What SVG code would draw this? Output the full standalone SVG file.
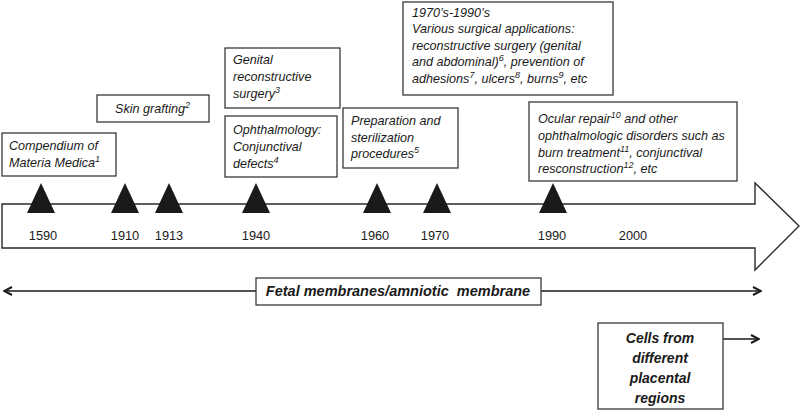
<svg xmlns="http://www.w3.org/2000/svg" width="800" height="413" viewBox="0 0 800 413">
<defs>
<style>
.bg{fill:#ffffff}
.box{fill:#ffffff;stroke:#3a3a3a;stroke-width:1.3}
.t{font-family:"Liberation Sans",Arial,sans-serif;font-size:12.6px;font-style:italic;fill:#1a1a1a}
.yr{font-family:"Liberation Sans",Arial,sans-serif;font-size:12.8px;fill:#1a1a1a;text-anchor:middle}
.b{font-family:"Liberation Sans",Arial,sans-serif;font-weight:bold;font-style:italic;fill:#1a1a1a;text-anchor:middle;white-space:pre}
.sup{font-size:9px}
.tri{fill:#1a1a1a}
.ln{stroke:#1a1a1a;stroke-width:1.4;fill:none}
</style>
<marker id="ah" viewBox="0 0 10 10" refX="9" refY="5" markerWidth="10" markerHeight="10" markerUnits="userSpaceOnUse" orient="auto-start-reverse">
<path d="M1,1 L9,5 L1,9" fill="none" stroke="#1a1a1a" stroke-width="2"/>
</marker>
</defs>
<rect class="bg" x="0" y="0" width="800" height="413"/>
<g id="timeline-arrow">
<path d="M2,204 H755 V183 L799,226 L755,270 V248 H2 Z" fill="#ffffff" stroke="#2a2a2a" stroke-width="1.4"/>
</g>
<g id="markers">
<polygon class="tri" points="41,183 27,213 55,213"/>
<polygon class="tri" points="125,183 111,213 139,213"/>
<polygon class="tri" points="169,183 155,213 183,213"/>
<polygon class="tri" points="256,183 242,213 270,213"/>
<polygon class="tri" points="377,183 363,213 391,213"/>
<polygon class="tri" points="437,183 423,213 451,213"/>
<polygon class="tri" points="553,183 539,213 567,213"/>
</g>
<g id="years">
<text class="yr" x="43" y="240">1590</text>
<text class="yr" x="125" y="240">1910</text>
<text class="yr" x="169" y="240">1913</text>
<text class="yr" x="256" y="240">1940</text>
<text class="yr" x="375" y="240">1960</text>
<text class="yr" x="435" y="240">1970</text>
<text class="yr" x="552" y="240">1990</text>
<text class="yr" x="633" y="240">2000</text>
</g>
<g id="compendium">
<rect class="box" x="2" y="133" width="114" height="43"/>
<text class="t" x="9" y="150">Compendium of</text>
<text class="t" x="9" y="167">Materia Medica<tspan class="sup" dy="-5">1</tspan></text>
</g>
<g id="skin-grafting">
<rect class="box" x="97" y="95" width="112" height="27"/>
<text class="t" x="115" y="113">Skin grafting<tspan class="sup" dy="-5">2</tspan></text>
</g>
<g id="genital">
<rect class="box" x="225" y="48" width="115" height="60"/>
<text class="t" x="233" y="64">Genital</text>
<text class="t" x="233" y="81">reconstructive</text>
<text class="t" x="233" y="98">surgery<tspan class="sup" dy="-5">3</tspan></text>
</g>
<g id="ophthalmology">
<rect class="box" x="225" y="116" width="112" height="61"/>
<text class="t" x="233" y="134">Ophthalmology:</text>
<text class="t" x="233" y="151">Conjunctival</text>
<text class="t" x="233" y="168">defects<tspan class="sup" dy="-5">4</tspan></text>
</g>
<g id="preparation">
<rect class="box" x="343" y="108" width="115" height="60"/>
<text class="t" x="351" y="125">Preparation and</text>
<text class="t" x="351" y="142">sterilization</text>
<text class="t" x="351" y="158">procedures<tspan class="sup" dy="-5">5</tspan></text>
</g>
<g id="surgical-applications">
<rect class="box" x="403" y="2" width="210" height="93"/>
<text class="t" x="412" y="17">1970’s-1990’s</text>
<text class="t" x="412" y="33">Various surgical applications:</text>
<text class="t" x="412" y="50">reconstructive surgery (genital</text>
<text class="t" x="412" y="66">and abdominal)<tspan class="sup" dy="-5">6</tspan><tspan dy="5">, prevention of</tspan></text>
<text class="t" x="412" y="83">adhesions<tspan class="sup" dy="-5">7</tspan><tspan dy="5">, ulcers</tspan><tspan class="sup" dy="-5">8</tspan><tspan dy="5">, burns</tspan><tspan class="sup" dy="-5">9</tspan><tspan dy="5">, etc</tspan></text>
</g>
<g id="ocular">
<rect class="box" x="529" y="102" width="208" height="79"/>
<text class="t" x="538" y="123">Ocular repair<tspan class="sup" dy="-5">10</tspan><tspan dy="5"> and other</tspan></text>
<text class="t" x="538" y="140">ophthalmologic disorders such as</text>
<text class="t" x="538" y="157">burn treatment<tspan class="sup" dy="-5">11</tspan><tspan dy="5">, conjunctival</tspan></text>
<text class="t" x="538" y="173">resconstruction<tspan class="sup" dy="-5">12</tspan><tspan dy="5">, etc</tspan></text>
</g>
<g id="connectors">
<line class="ln" x1="4" y1="291" x2="256" y2="291" marker-start="url(#ah)"/>
<line class="ln" x1="541" y1="291" x2="761" y2="291" marker-end="url(#ah)"/>
<line class="ln" x1="723" y1="339" x2="759" y2="339" marker-end="url(#ah)"/>
</g>
<g id="fetal-membranes">
<rect class="box" x="256" y="278" width="285" height="27"/>
<text class="b" x="398" y="296" style="font-size:14.5px" xml:space="preserve">Fetal membranes/amniotic  membrane</text>
</g>
<g id="cells">
<rect class="box" x="598" y="323" width="125" height="86"/>
<text class="b" x="660" y="343" style="font-size:14px">Cells from</text>
<text class="b" x="660" y="363" style="font-size:14px">different</text>
<text class="b" x="660" y="383" style="font-size:14px">placental</text>
<text class="b" x="660" y="403" style="font-size:14px">regions</text>
</g>
</svg>
